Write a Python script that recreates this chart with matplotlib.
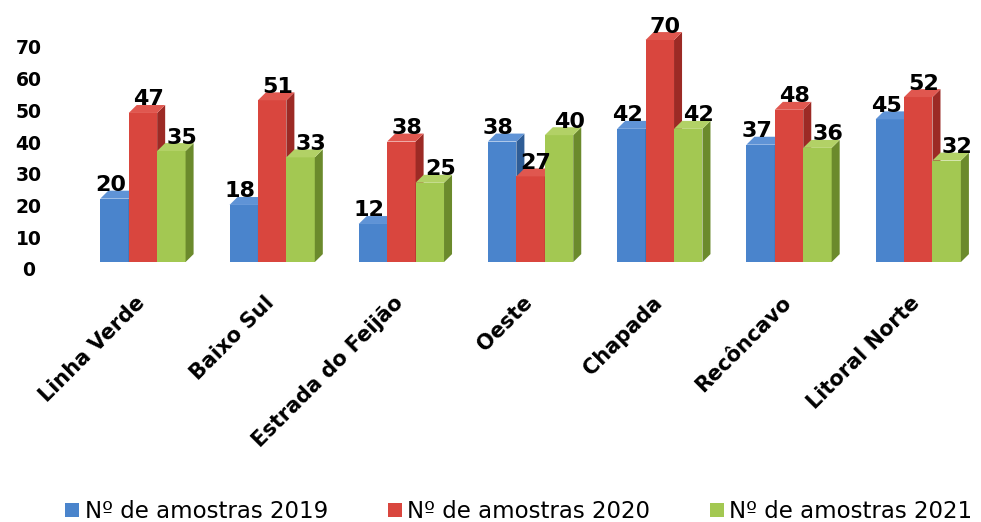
import matplotlib.pyplot as plt
import numpy as np
from matplotlib.patches import Polygon, Patch
from matplotlib.transforms import ScaledTranslation

plt.rcParams['font.family'] = ['DejaVu Sans']

regions = ['Linha Verde', 'Baixo Sul', 'Estrada do Feijão', 'Oeste',
           'Chapada', 'Recôncavo', 'Litoral Norte']
n2019 = [20, 18, 12, 38, 42, 37, 45]
n2020 = [47, 51, 38, 27, 70, 48, 52]
n2021 = [35, 33, 25, 40, 42, 36, 32]
series_names = ['Nº de amostras 2019', 'Nº de amostras 2020', 'Nº de amostras 2021']

front = ['#4a84cc', '#d9463e', '#a3c852']
side = ['#2f5d96', '#9c2a25', '#6b8a2c']
top = ['#5f93d6', '#e0574f', '#b2d166']
label_shift = [-0.03, 0.04, 0.08]

fig = plt.figure(figsize=(9.81, 5.22), dpi=100)
ax = fig.add_axes([0.056, 0.498, 0.938, 0.46])

x = np.arange(len(regions))
w = 0.22
dx = 0.062   # depth offset in x (data units)
dy = 2.5     # depth offset in y (data units)

for k, vals in enumerate([n2019, n2020, n2021]):
    xs = x + (k - 1) * w
    ax.bar(xs, vals, width=w, color=front[k], edgecolor='none', zorder=3 + k)
    for xi, v in zip(xs, vals):
        x0, x1 = xi - w / 2, xi + w / 2
        ax.add_patch(Polygon([(x1, 0), (x1 + dx, dy), (x1 + dx, v + dy), (x1, v)],
                             closed=True, facecolor=side[k], edgecolor='none', zorder=3 + k))
        ax.add_patch(Polygon([(x0, v), (x0 + dx, v + dy), (x1 + dx, v + dy), (x1, v)],
                             closed=True, facecolor=top[k], edgecolor='none', zorder=3 + k))
        ax.text(xi + label_shift[k], v + 1.1, str(v), ha='center', va='bottom',
                fontsize=16, fontweight='bold', color='black', zorder=10)

ax.set_xlim(-0.681, 6.44)
ax.set_ylim(0, 75.7)
ax.set_yticks(range(0, 80, 10))
ax.set_xticks(x)
ax.set_xticklabels(regions, rotation=45, ha='right', rotation_mode='anchor',
                   fontsize=15, fontweight='bold')
ax.tick_params(axis='x', length=0, pad=22)
for lab in ax.get_xticklabels():
    lab.set_transform(lab.get_transform() + ScaledTranslation(-6 / 72, 0, fig.dpi_scale_trans))
ax.tick_params(axis='y', length=0, pad=19, labelsize=13.5)
for lab in ax.get_yticklabels():
    lab.set_fontweight('bold')
    lab.set_horizontalalignment('center')
    lab.set_transform(lab.get_transform() + ScaledTranslation(0, -5 / 72, fig.dpi_scale_trans))
for s in ax.spines.values():
    s.set_visible(False)

handles = [Patch(facecolor=front[k], edgecolor='none') for k in range(3)]
fig.legend(handles, series_names, loc='center', bbox_to_anchor=(0.529, 0.02),
           ncol=3, frameon=False, fontsize=16.5, handlelength=0.6, handleheight=0.6,
           handletextpad=0.25, columnspacing=2.6)

fig.savefig('out.png', dpi=100)
